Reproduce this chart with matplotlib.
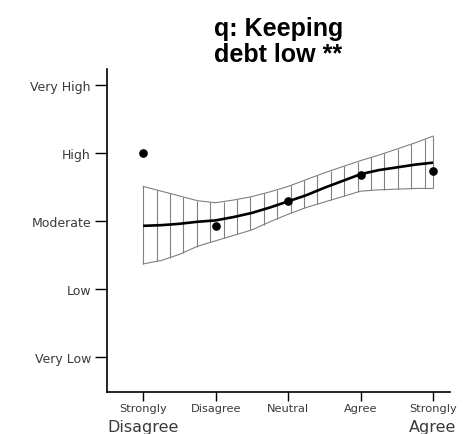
import numpy as np
import matplotlib
matplotlib.use("Agg")
import matplotlib.pyplot as plt

plt.rcParams['font.family'] = ['DejaVu Sans']

# categories
x_labels = ["Strongly", "Disagree", "Neutral", "Agree", "Strongly"]
y_labels = ["Very Low", "Low", "Moderate", "High", "Very High"]
x_pos = [1, 2, 3, 4, 5]
y_pos = [1, 2, 3, 4, 5]

# observed means
point_vals = [4.00, 2.93, 3.29, 3.68, 3.74]

# fitted curve and confidence band (read at quarter-category steps)
fit_x = [1.0, 1.25, 1.5, 1.75, 2.0, 2.25, 2.5, 2.75, 3.0,
         3.25, 3.5, 3.75, 4.0, 4.25, 4.5, 4.75, 5.0]
fit_y = [2.93, 2.94, 2.96, 2.99, 3.01, 3.06, 3.12, 3.20, 3.29,
         3.38, 3.49, 3.59, 3.69, 3.75, 3.79, 3.83, 3.86]
band_hi = [3.51, 3.44, 3.37, 3.30, 3.27, 3.31, 3.36, 3.43, 3.51,
           3.61, 3.71, 3.80, 3.89, 3.97, 4.06, 4.15, 4.25]
band_lo = [2.37, 2.42, 2.51, 2.63, 2.71, 2.79, 2.87, 2.99, 3.10,
           3.20, 3.28, 3.36, 3.44, 3.46, 3.47, 3.48, 3.48]

fig = plt.figure(figsize=(4.63, 4.35), dpi=100)
ax = fig.add_axes([0.231, 0.0966, 0.741, 0.742])

grey = '#808080'
ax.plot(fit_x, band_hi, color=grey, lw=0.8)
ax.plot(fit_x, band_lo, color=grey, lw=0.8)
hx = np.arange(fit_x[0], fit_x[-1] + 1e-6, 0.185)
hx = np.append(hx, fit_x[-1])
ax.vlines(hx, np.interp(hx, fit_x, band_lo), np.interp(hx, fit_x, band_hi),
          color=grey, lw=0.8)

ax.plot(fit_x, fit_y, color='black', lw=1.9, solid_capstyle='butt')
ax.plot(x_pos, point_vals, 'o', color='black', markersize=5.2)

ax.set_xlim(0.5, 5.235)
ax.set_ylim(0.485, 5.235)
ax.spines['top'].set_visible(False)
ax.spines['right'].set_visible(False)
ax.spines['left'].set_linewidth(1.2)
ax.spines['bottom'].set_linewidth(1.2)

txt = '#3a3a3a'
ax.set_xticks(x_pos)
ax.set_xticklabels(x_labels, fontsize=8.2, color=txt)
ax.set_yticks(y_pos)
ax.set_yticklabels(y_labels, fontsize=9, color=txt)
ax.tick_params(axis='x', length=6.5, width=1.0, pad=1.5)
ax.tick_params(axis='y', length=8.5, width=1.0, pad=3)

ax.text(1, -0.085, "Disagree", transform=ax.get_xaxis_transform(),
        ha='center', va='top', fontsize=11.5, color=txt)
ax.text(5, -0.085, "Agree", transform=ax.get_xaxis_transform(),
        ha='center', va='top', fontsize=11.5, color=txt)

ax.set_title("q: Keeping\ndebt low **", fontsize=18, fontweight='bold',
             family='Liberation Sans', linespacing=1.1, pad=6)

fig.savefig("out.png", dpi=100)
